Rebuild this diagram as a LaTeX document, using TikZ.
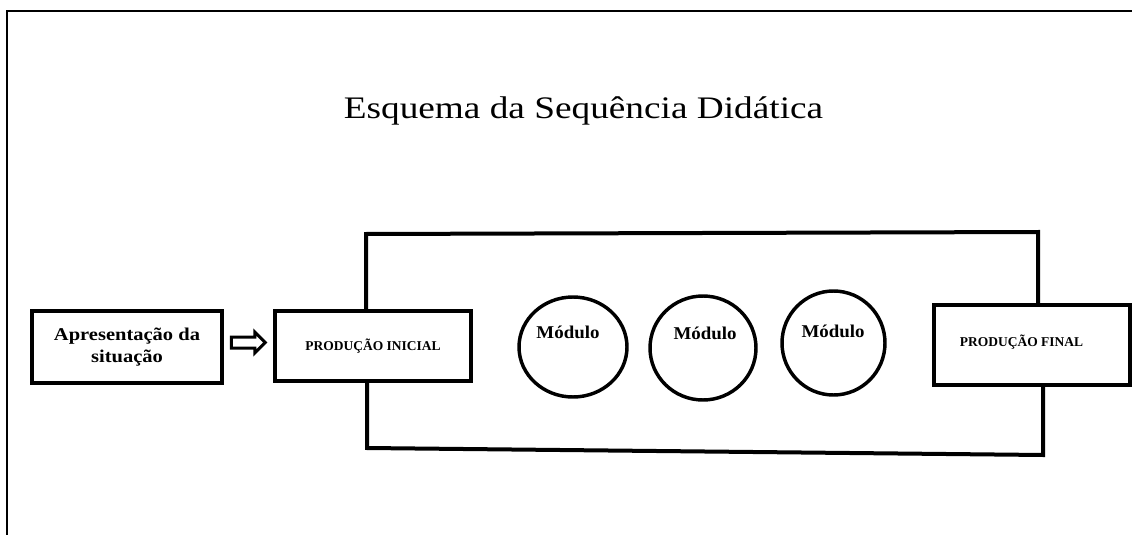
\documentclass[tikz,border=0pt]{standalone}
\usepackage{graphicx}
\usepackage{fontspec}
\setmainfont{Liberation Serif}
\usetikzlibrary{shapes.geometric,shapes.arrows,calc}
\begin{document}
\begin{tikzpicture}[x=0.75pt,y=-0.75pt,
  box/.style={draw,line width=3pt,fill=white,rectangle,inner sep=0pt,align=center},
  modcirc/.style={draw,ellipse,line width=2.6pt,inner sep=0pt},
  link/.style={line width=3pt},
  capslbl/.style={inner sep=0pt,font=\bfseries\fontsize{10.1pt}{12pt}\selectfont},
  modlbl/.style={inner sep=0pt,anchor=base,font=\bfseries\fontsize{13.5pt}{16pt}\selectfont},
  frameline/.style={line width=1.5pt},
]
\useasboundingbox (0,0) rectangle (1132,535);

% page frame
\draw[frameline] (1132,11) -- (7,11) -- (7,535);

% title
\node[anchor=base,inner sep=0pt,font=\fontsize{23.5pt}{28pt}\selectfont] (title) at (583.5,118)
  {\scalebox{1.19}[1]{Esquema da Sequência Didática}};

% boxes
\node[box,minimum width=142.5pt,minimum height=54pt,
      font=\bfseries\fontsize{13.5pt}{16.5pt}\selectfont] (apr) at (127,347)
  {\scalebox{1.14}[1]{Apresentação da}\\\scalebox{1.14}[1]{situação}};
\node[box,minimum width=147pt,minimum height=52.5pt,
      font=\bfseries\fontsize{10.1pt}{12pt}\selectfont] (pi) at (373,346) {PRODUÇÃO INICIAL};
\node[box,minimum width=147pt,minimum height=60pt] (pf) at (1032,345) {};
\node[capslbl] (pflbl) at (1021.5,342) {PRODUÇÃO FINAL};

% module circles
\node[modcirc,minimum width=81pt,minimum height=75pt] (m1) at (573,347) {};
\node[modcirc,minimum width=79.5pt,minimum height=78pt] (m2) at (703,348) {};
\node[modcirc,minimum width=77.25pt,minimum height=78pt] (m3) at (833.5,343) {};
\node[modlbl] (m1lbl) at (568,338) {\scalebox{1.05}[1]{Módulo}};
\node[modlbl] (m2lbl) at (705,339) {\scalebox{1.05}[1]{Módulo}};
\node[modlbl] (m3lbl) at (833,337) {\scalebox{1.05}[1]{Módulo}};

% bracket lines
\coordinate (tl) at (366,234);
\coordinate (tr) at (1038,232);
\coordinate (bl) at (367,448);
\coordinate (br) at (1043,455);
\draw[link] (tl |- pi.north) -- (tl) -- (tr) -- (tr |- pf.north);
\draw[link] (bl |- pi.south) -- (bl) -- (br) -- (br |- pf.south);

% hollow arrow
\node[single arrow,draw,fill=white,line width=2.25pt,inner xsep=0pt,inner ysep=3pt,
      minimum width=0pt,minimum height=25.5pt,single arrow head extend=3.75pt,
      single arrow head indent=0pt] (arr) at ($(apr.east)!0.5!(pi.west)+(-3,-4)$) {};
\end{tikzpicture}
\end{document}
